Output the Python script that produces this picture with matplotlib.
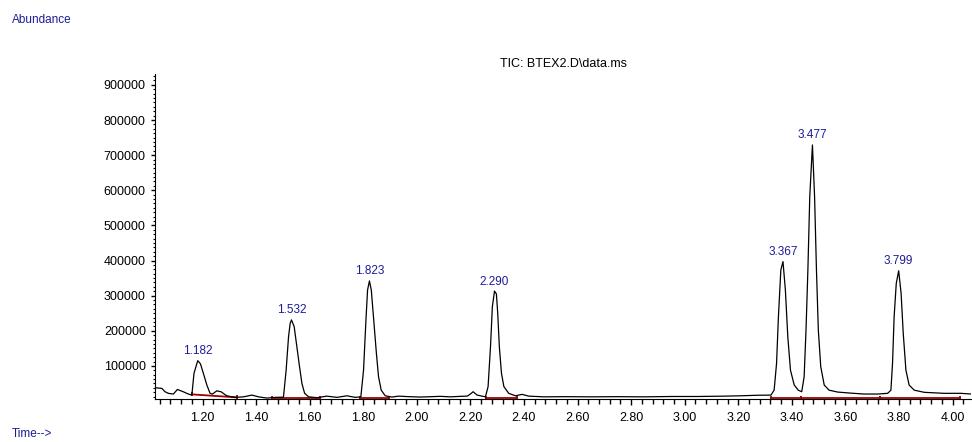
import numpy as np
import matplotlib
matplotlib.use('Agg')
import matplotlib.pyplot as plt
from matplotlib.ticker import MultipleLocator

plt.rcParams['font.family'] = ['Liberation Sans', 'DejaVu Sans']

time = [1.022, 1.048, 1.060, 1.072, 1.091, 1.106, 1.128, 1.147, 1.160, 1.168,
        1.192, 1.203, 1.216, 1.228, 1.237, 1.253, 1.269, 1.290, 1.321, 1.353,
        1.384, 1.409, 1.440, 1.471, 1.502, 1.512, 1.521, 1.527,
        1.542, 1.552, 1.562, 1.571, 1.581, 1.596, 1.627, 1.664, 1.702, 1.739,
        1.770, 1.791, 1.801, 1.810, 1.816,
        1.830, 1.839, 1.849, 1.857, 1.867, 1.882, 1.907, 1.932, 1.970, 2.013,
        2.050, 2.088, 2.125, 2.163, 2.188, 2.200, 2.210, 2.225, 2.256, 2.266,
        2.275, 2.282,
        2.297, 2.302, 2.308, 2.316, 2.325, 2.343, 2.368, 2.393, 2.418, 2.474,
        2.55, 2.65, 2.75, 2.85, 2.95, 3.05, 3.15, 3.21, 3.27, 3.322,
        3.334, 3.343, 3.350, 3.359,
        3.376, 3.385, 3.395, 3.409, 3.424, 3.437, 3.446, 3.453, 3.460, 3.467,
        3.485, 3.492, 3.499, 3.508, 3.521, 3.539, 3.571, 3.621, 3.670, 3.720,
        3.758, 3.770, 3.776, 3.782, 3.790,
        3.808, 3.816, 3.826, 3.838, 3.857, 3.895, 3.969, 4.032, 4.069]
abundance = [38000, 36000, 26500, 22000, 20000, 33000, 26500, 20000, 17000, 79000,
             106000, 79000, 45600, 22000, 20000, 29000, 26500, 15000, 10500, 12000,
             17000, 12000, 8500, 10500, 11000, 88000, 183000, 221000,
             212000, 155000, 98000, 50000, 22000, 12000, 9500, 14000, 10500, 15000,
             10500, 12000, 88000, 231000, 316000,
             316000, 231000, 136000, 69000, 31000, 15000, 11400, 14000, 12500, 11400,
             12500, 13400, 12000, 13400, 14000, 20000, 26500, 17000, 12000, 41000,
             155000, 269000,
             305000, 250000, 155000, 79000, 41000, 22000, 15000, 19000, 14000, 12000,
             12500, 12000, 12500, 12000, 13000, 13000, 14000, 15000, 16500, 17000,
             31000, 107000, 240000, 373000,
             316000, 183000, 88000, 45600, 31000, 26500, 69000, 202000, 373000, 582000,
             582000, 373000, 202000, 98000, 45600, 31000, 25600, 22500, 20000, 20000,
             22000, 31000, 107000, 240000, 335000,
             307000, 193000, 88000, 45600, 31000, 24800, 22000, 22000, 20000]

peak_rt = [1.182, 1.532, 1.823, 2.290, 3.367, 3.477, 3.799]
peak_height = [115000, 231000, 342000, 313000, 397000, 729000, 371000]

# integration baselines
int_start = [1.160, 1.459, 1.786, 2.259, 3.322, 3.434, 3.728]
int_end = [1.328, 1.639, 1.895, 2.375, 3.434, 3.728, 4.029]
int_level_start = [19000, 8500, 8500, 8500, 7700, 7700, 7700]
int_level_end = [10500, 8500, 8500, 8500, 7700, 7700, 7700]

x_ticks = [1.20, 1.40, 1.60, 1.80, 2.00, 2.20, 2.40, 2.60, 2.80, 3.00,
           3.20, 3.40, 3.60, 3.80, 4.00]
y_ticks = [100000, 200000, 300000, 400000, 500000, 600000, 700000, 800000, 900000]

blue = '#1c1c96'
red = '#a00000'

t_all = np.array(time + peak_rt)
a_all = np.array(abundance + peak_height)
order = np.argsort(t_all)

fig = plt.figure(figsize=(9.72, 4.42), dpi=100)
ax = fig.add_axes([155 / 972, 1 - 399.3 / 442, 816 / 972, (399.3 - 74) / 442])

ax.plot(t_all[order], a_all[order], color='black', lw=0.9, zorder=3)

for s, e, ls, le in zip(int_start, int_end, int_level_start, int_level_end):
    ax.plot([s, e], [ls, le], color=red, lw=1.3, zorder=2)
    ax.vlines([s, e], [ls - 6000, le - 6000], [ls + 6000, le + 6000],
              color=red, lw=1.3, zorder=2)

for rt, h in zip(peak_rt, peak_height):
    ax.annotate('%.3f' % rt, (rt, h), xytext=(0, 2.5), textcoords='offset points',
                ha='center', va='bottom', color=blue, fontsize=8.5)

ax.set_xlim(1.0224, 4.069)
ax.set_ylim(5000, 931000)
ax.spines['top'].set_visible(False)
ax.spines['right'].set_visible(False)

ax.set_xticks(x_ticks)
ax.set_xticklabels(['%.2f' % v for v in x_ticks])
ax.xaxis.set_minor_locator(MultipleLocator(0.04))
ax.set_yticks(y_ticks)
ax.set_yticklabels([str(v) for v in y_ticks])
ax.yaxis.set_minor_locator(MultipleLocator(12500))

ax.tick_params(axis='x', which='major', direction='out', length=4.5, width=1,
               pad=4.5, labelsize=9)
ax.tick_params(axis='x', which='minor', direction='out', length=3.5, width=1)
ax.tick_params(axis='y', which='major', direction='out', length=3, width=1,
               pad=3.6, labelsize=9)
ax.tick_params(axis='y', which='minor', direction='out', length=1.5, width=0.8)

ax.set_title('TIC: BTEX2.D\\data.ms', fontsize=9, pad=5)

fig.text(12 / 972, 1 - 20 / 442, 'Abundance', color=blue, fontsize=8.5, va='center')
fig.text(12 / 972, 1 - 434 / 442, 'Time-->', color=blue, fontsize=8.5, va='center')

fig.savefig('out.png', dpi=100)
